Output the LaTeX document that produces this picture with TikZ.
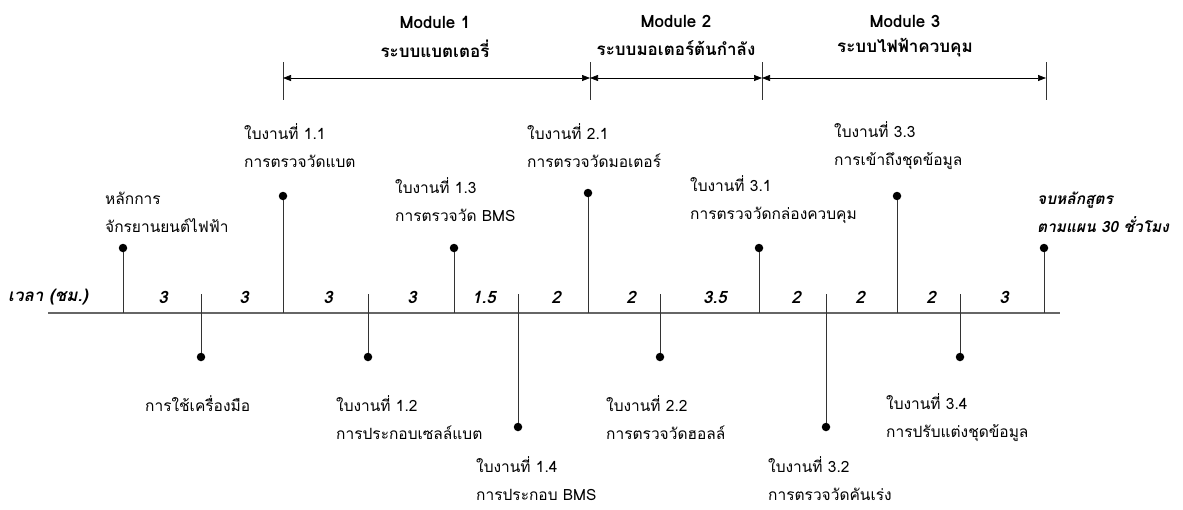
\documentclass[tikz,border=0pt]{standalone}
\usepackage{fontspec}
\setmainfont[Script=Thai]{Loma}
\usetikzlibrary{arrows.meta}

\begin{document}
\begin{tikzpicture}[x=1pt, y=-1pt,
  dot/.style={circle, fill=black, inner sep=0pt, minimum size=8.5pt},
  stem/.style={draw=black!80, line width=0.8pt},
  lbl/.style={anchor=west, font=\fontsize{15.5}{28}\selectfont, align=left, inner sep=0pt},
  hrs/.style={font=\fontsize{17}{20}\selectfont\bfseries\itshape, inner sep=0pt},
  modtitle/.style={font=\fontsize{17}{20}\selectfont\bfseries, align=center, inner sep=0pt},
  >={Triangle[length=8pt,width=6pt]},
]
\useasboundingbox (0,0) rectangle (1183,509);

% ---- module brackets ----
\node[modtitle] (mt1) at (435,22) {Module 1};
\node[modtitle] (ms1) at (435,49) {ระบบแบตเตอรี่};
\node[modtitle] (mt2) at (676,21) {Module 2};
\node[modtitle] (ms2) at (676,48) {ระบบมอเตอร์ต้นกำลัง};
\node[modtitle] (mt3) at (905,21) {Module 3};
\node[modtitle] (ms3) at (905,48) {ระบบไฟฟ้าควบคุม};
\coordinate (b0) at (283,78); \coordinate (b1) at (590,78);
\coordinate (b2) at (762,78); \coordinate (b3) at (1046,78);
\draw[stem] (283,62) -- (283,100);
\draw[stem] (590,62) -- (590,100);
\draw[stem] (762,62) -- (762,100);
\draw[stem] (1046,62) -- (1046,100);
\draw[<->, line width=0.7pt] (b0) -- (b1);
\draw[<->, line width=0.7pt] (b1) -- (b2);
\draw[<->, line width=0.7pt] (b2) -- (b3);

% ---- time axis ----
\node[hrs, anchor=west] (tlabel) at (8,297) {เวลา (ชม.)};
\coordinate (ax0) at (48,313); \coordinate (ax1) at (1060,313);
\draw[black!60, line width=1.6pt] (ax0) -- (ax1);
\node[hrs] (h1) at (163,297) {3};
\node[hrs] (h2) at (244,297) {3};
\node[hrs] (h3) at (328,297) {3};
\node[hrs] (h4) at (412,297) {3};
\node[hrs] (h5) at (484,297) {1.5};
\node[hrs] (h6) at (556,297) {2};
\node[hrs] (h7) at (631,297) {2};
\node[hrs] (h8) at (715,297) {3.5};
\node[hrs] (h9) at (796,297) {2};
\node[hrs] (h10) at (860,297) {2};
\node[hrs] (h11) at (931,297) {2};
\node[hrs] (h12) at (1004,297) {3};

% ---- upper milestones ----
\node[dot] (u1) at (123,248) {}; \coordinate (ua1) at (123,313);
\node[dot] (u2) at (283,196) {}; \coordinate (ua2) at (283,313);
\node[dot] (u3) at (454,248) {}; \coordinate (ua3) at (454,313);
\node[dot] (u4) at (588,193) {}; \coordinate (ua4) at (588,313);
\node[dot] (u5) at (759,248) {}; \coordinate (ua5) at (759,313);
\node[dot] (u6) at (897,196) {}; \coordinate (ua6) at (897,313);
\node[dot] (u7) at (1044,248) {}; \coordinate (ua7) at (1044,313);
\draw[stem] (u1) -- (ua1); \draw[stem] (u2) -- (ua2); \draw[stem] (u3) -- (ua3);
\draw[stem] (u4) -- (ua4); \draw[stem] (u5) -- (ua5); \draw[stem] (u6) -- (ua6);
\draw[stem] (u7) -- (ua7);
\node[lbl] (lu1) at (105,212) {หลักการ\\จักรยานยนต์ไฟฟ้า};
\node[lbl] (lu2) at (244,146) {ใบงานที่ 1.1\\การตรวจวัดแบต};
\node[lbl] (lu3) at (395,200) {ใบงานที่ 1.3\\การตรวจวัด BMS};
\node[lbl] (lu4) at (527,146) {ใบงานที่ 2.1\\การตรวจวัดมอเตอร์};
\node[lbl] (lu5) at (690,200) {ใบงานที่ 3.1\\การตรวจวัดกล่องควบคุม};
\node[lbl] (lu6) at (834,146) {ใบงานที่ 3.3\\การเข้าถึงชุดข้อมูล};
\node[lbl, font=\fontsize{15.5}{28}\selectfont\bfseries\itshape] (lu7) at (1037,212) {จบหลักสูตร\\ตามแผน 30 ชั่วโมง};

% ---- lower milestones ----
\node[dot] (d1) at (201,357) {}; \coordinate (da1) at (201,294);
\node[dot] (d2) at (368,357) {}; \coordinate (da2) at (368,294);
\node[dot] (d3) at (518,427) {}; \coordinate (da3) at (518,294);
\node[dot] (d4) at (660,357) {}; \coordinate (da4) at (660,294);
\node[dot] (d5) at (826,427) {}; \coordinate (da5) at (826,294);
\node[dot] (d6) at (960,357) {}; \coordinate (da6) at (960,294);
\draw[stem] (da1) -- (d1); \draw[stem] (da2) -- (d2); \draw[stem] (da3) -- (d3);
\draw[stem] (da4) -- (d4); \draw[stem] (da5) -- (d5); \draw[stem] (da6) -- (d6);
\node[lbl] (ld1) at (145,404) {การใช้เครื่องมือ};
\node[lbl] (ld2) at (336,418) {ใบงานที่ 1.2\\การประกอบเซลล์แบต};
\node[lbl] (ld3) at (476,479) {ใบงานที่ 1.4\\การประกอบ BMS};
\node[lbl] (ld4) at (606,418) {ใบงานที่ 2.2\\การตรวจวัดฮอลล์};
\node[lbl] (ld5) at (768,479) {ใบงานที่ 3.2\\การตรวจวัดคันเร่ง};
\node[lbl] (ld6) at (886,418) {ใบงานที่ 3.4\\การปรับแต่งชุดข้อมูล};
\end{tikzpicture}
\end{document}
